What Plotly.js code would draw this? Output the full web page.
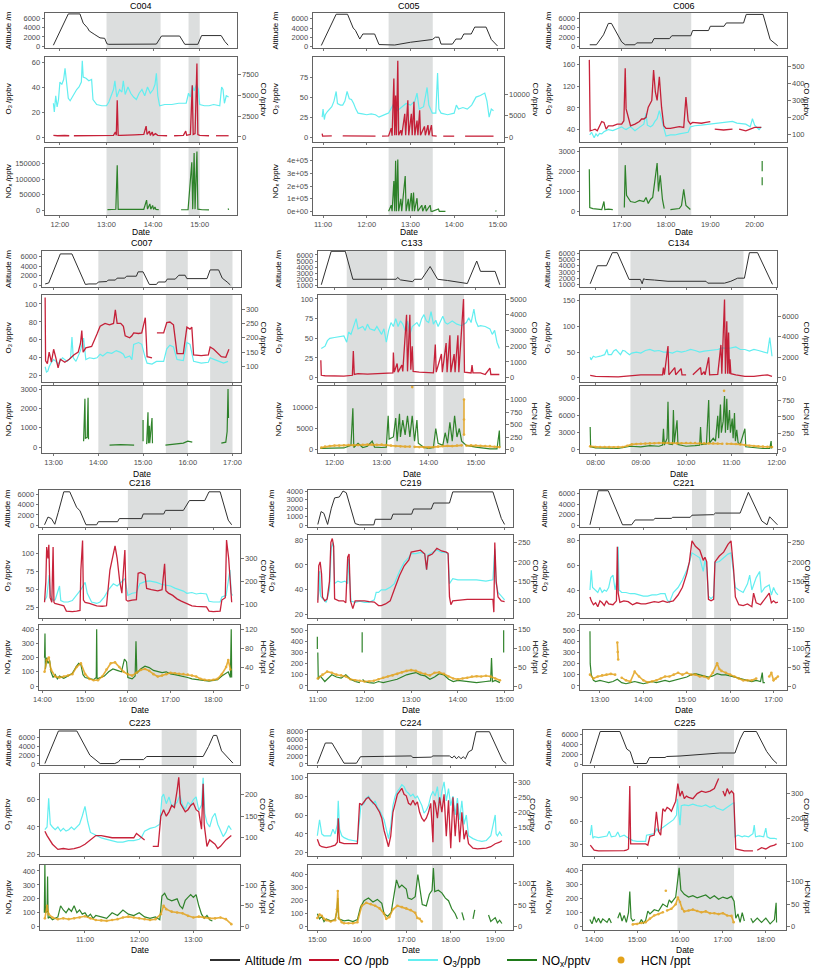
<!DOCTYPE html>
<html><head><meta charset="utf-8">
<script src="https://cdn.plot.ly/plotly-3.0.1.min.js"></script>
<style>body{margin:0;background:#fff}#chart{width:813px;height:977px}</style>
</head><body><div id="chart"></div>
<script>
// ===================== DATA (time in decimal hours, value) =====================
// ---- C004 ----
const C004_ALT=[[11.86,200],[12.18,7000],[12.43,7000],[12.5,5000],[12.59,4000],[12.63,3300],[12.75,2500],[12.86,1800],[12.96,1700],[13.01,500],[13.05,400],[13.5,420],[14.07,450],[14.18,2200],[14.57,2200],[14.68,400],[14.96,400],[15.04,2300],[15.46,2300],[15.54,1000],[15.61,200]];
const C004_O3=[[11.86,27],[11.88,20],[11.91,33],[11.94,24],[11.97,30],[12.0,44],[12.04,42],[12.08,46],[12.11,55],[12.14,43],[12.18,31],[12.22,29],[12.27,32],[12.32,36],[12.36,38],[12.41,40],[12.46,44],[12.48,61],[12.5,48],[12.56,47],[12.62,45],[12.68,46],[12.71,30],[12.79,26],[12.9,25],[13.0,25],[13.05,28],[13.1,33],[13.15,38],[13.18,45],[13.22,32],[13.28,38],[13.33,36],[13.36,45],[13.4,34],[13.46,40],[13.52,35],[13.58,32],[13.64,30],[13.7,35],[13.76,38],[13.82,33],[13.88,40],[13.94,35],[14.0,38],[14.04,42],[14.07,51],[14.1,33],[14.14,25],[14.25,26],[14.4,26],[14.55,27],[14.71,27],[14.76,35],[14.8,32],[14.84,41],[14.88,37],[14.93,42],[14.97,38],[15.0,26],[15.1,25],[15.2,25],[15.3,26],[15.43,25],[15.47,40],[15.5,38],[15.53,27],[15.57,33],[15.62,32]];
const C004_CO=[[11.86,200],[11.95,150],[12.1,180],[12.2,150],[12.25,null],[12.3,150],[12.5,150],[12.7,180],[12.9,200],[13.15,200],[13.19,600],[13.21,200],[13.23,4400],[13.25,200],[13.3,200],[13.45,180],[13.6,250],[13.8,300],[13.85,1300],[13.87,300],[13.92,700],[13.94,200],[13.98,600],[14.0,200],[14.05,400],[14.1,200],[14.3,150],[14.4,null],[14.45,150],[14.65,200],[14.7,700],[14.72,200],[14.8,300],[14.84,6200],[14.86,300],[14.9,400],[14.94,8800],[14.96,300],[15.0,200],[15.2,150],[15.3,null],[15.35,150],[15.62,150]];
const C004_NOX=[[11.86,5000],[11.865,null],[13.02,1500],[13.1,2000],[13.2,2500],[13.23,145000],[13.25,2500],[13.4,2000],[13.6,1500],[13.8,2500],[13.86,32000],[13.88,3000],[13.93,20000],[13.95,3000],[13.99,15000],[14.01,2000],[14.04,10000],[14.06,2000],[14.12,1500],[14.15,null],[14.6,1000],[14.75,1500],[14.83,155000],[14.85,3000],[14.88,185000],[14.9,3000],[14.94,190000],[14.96,3000],[15.05,1000],[15.2,800],[15.3,null],[15.61,5000],[15.62,500]];
const C004_SHADE=[[13.0,14.16],[14.76,15.0]];
// ---- C005 ----
const C005_ALT=[[10.96,200],[11.3,7000],[11.56,7000],[11.69,4000],[11.74,3500],[11.84,1600],[11.91,2700],[12.18,2700],[12.28,400],[12.52,400],[12.64,300],[13.0,900],[13.5,1500],[13.57,2000],[13.65,2000],[13.7,500],[13.96,500],[14.04,1600],[14.16,1600],[14.22,2700],[14.39,2700],[14.47,4200],[14.73,4200],[14.85,1500],[14.99,100]];
const C005_O3=[[10.98,25],[11.0,35],[11.03,22],[11.05,28],[11.1,32],[11.15,35],[11.2,38],[11.25,45],[11.3,57],[11.33,42],[11.4,40],[11.45,40],[11.5,45],[11.55,57],[11.6,48],[11.65,47],[11.7,42],[11.75,35],[11.8,30],[11.9,29],[12.0,28],[12.1,29],[12.2,28],[12.28,25],[12.35,27],[12.45,29],[12.5,30],[12.55,35],[12.6,40],[12.7,33],[12.8,38],[12.9,42],[13.0,40],[13.1,45],[13.15,55],[13.2,35],[13.3,38],[13.38,62],[13.42,40],[13.5,30],[13.58,30],[13.62,80],[13.65,35],[13.7,30],[13.85,28],[14.0,30],[14.05,40],[14.1,35],[14.2,37],[14.3,35],[14.4,40],[14.5,50],[14.6,52],[14.7,55],[14.75,45],[14.8,25],[14.85,35],[14.9,33]];
const C005_CO=[[10.98,800],[10.99,200],[11.2,250],[11.4,null],[11.45,250],[11.8,200],[12.2,200],[12.3,null],[12.35,200],[12.5,250],[12.56,2100],[12.58,300],[12.62,13800],[12.64,400],[12.66,9800],[12.68,400],[12.71,18000],[12.73,400],[12.78,1600],[12.8,400],[12.87,5500],[12.89,400],[12.94,8700],[12.96,400],[13.02,5500],[13.04,400],[13.08,8300],[13.1,400],[13.15,3900],[13.17,400],[13.21,6300],[13.23,400],[13.32,2500],[13.34,400],[13.4,2800],[13.42,400],[13.48,2800],[13.5,300],[13.6,200],[13.7,null],[13.75,200],[14.0,200],[14.2,null],[14.25,200],[14.6,200],[14.9,200]];
const C005_NOX=[[12.5,3000],[12.56,50000],[12.58,3000],[12.62,240000],[12.64,3000],[12.66,400000],[12.68,3000],[12.71,410000],[12.73,3000],[12.78,100000],[12.8,3000],[12.88,280000],[12.9,3000],[12.95,100000],[12.97,3000],[13.02,145000],[13.04,3000],[13.07,150000],[13.09,3000],[13.15,105000],[13.17,3000],[13.26,50000],[13.28,3000],[13.34,50000],[13.36,3000],[13.45,50000],[13.47,3000],[13.5,2000],[13.64,20000],[13.66,2000],[13.8,1500],[13.81,null],[14.95,8000],[14.96,1000]];
const C005_SHADE=[[12.5,13.51]];
// ---- C006 ----
const C006_ALT=[[16.28,400],[16.43,400],[16.59,2500],[16.7,4900],[16.77,4900],[16.85,3500],[17.0,1000],[17.08,400],[17.3,400],[17.34,800],[17.68,800],[17.73,1700],[18.08,1700],[18.13,2300],[18.56,2300],[18.6,3400],[18.96,3400],[19.0,4300],[19.31,4300],[19.36,5000],[19.75,5000],[19.81,6800],[20.19,6800],[20.35,1500],[20.52,200]];
const C006_O3=[[16.28,30],[16.32,35],[16.38,25],[16.42,32],[16.46,28],[16.5,33],[16.55,32],[16.6,36],[16.65,38],[16.7,40],[16.8,38],[16.9,42],[17.0,45],[17.05,42],[17.1,40],[17.2,45],[17.3,38],[17.4,44],[17.5,50],[17.55,70],[17.58,48],[17.65,45],[17.7,48],[17.75,55],[17.8,60],[17.85,75],[17.9,60],[17.95,40],[18.0,28],[18.1,30],[18.2,30],[18.3,32],[18.4,33],[18.5,35],[18.55,45],[18.65,47],[18.8,48],[19.0,50],[19.3,52],[19.5,55],[19.6,52],[19.8,50],[19.9,45],[19.95,60],[20.0,48],[20.1,40],[20.15,45]];
const C006_CO=[[16.27,540],[16.29,120],[16.35,125],[16.4,130],[16.45,120],[16.5,150],[16.55,175],[16.6,170],[16.65,130],[16.7,150],[16.8,150],[16.9,160],[17.0,160],[17.05,180],[17.08,490],[17.1,250],[17.15,200],[17.2,150],[17.3,160],[17.4,175],[17.45,190],[17.5,190],[17.55,200],[17.6,260],[17.68,300],[17.72,480],[17.76,350],[17.8,300],[17.85,440],[17.9,260],[17.95,150],[18.0,135],[18.1,135],[18.2,140],[18.3,145],[18.4,140],[18.45,320],[18.5,180],[18.55,160],[18.6,170],[18.8,165],[18.9,170],[19.0,175],[19.05,null],[19.1,130],[19.3,125],[19.5,130],[19.6,null],[19.65,130],[19.8,120],[19.9,130],[20.0,140],[20.15,140]];
const C006_NOX=[[16.27,2100],[16.28,200],[16.35,150],[16.45,120],[16.55,100],[16.6,500],[16.62,100],[16.7,120],[16.8,100],[16.85,null],[17.06,200],[17.08,2300],[17.11,800],[17.2,500],[17.3,450],[17.4,550],[17.5,500],[17.55,700],[17.6,400],[17.65,600],[17.7,700],[17.75,1700],[17.8,2400],[17.83,1000],[17.87,1800],[17.92,600],[17.96,150],[18.0,null],[18.1,100],[18.2,120],[18.3,150],[18.35,300],[18.4,1100],[18.45,300],[18.5,200],[18.55,100],[18.6,null],[20.17,1300],[20.17,1700],[20.171,null],[20.17,2000],[20.17,2500]];
const C006_SHADE=[[16.92,18.57]];
// ---- C007 ----
const C007_ALT=[[12.81,300],[12.89,500],[13.15,6500],[13.41,6500],[13.71,200],[13.79,300],[13.96,300],[14.0,700],[14.19,800],[14.22,1100],[14.38,1100],[14.42,1500],[14.59,1500],[14.63,1900],[14.85,1900],[14.89,2800],[15.0,2800],[15.14,200],[15.3,200],[15.34,700],[15.5,700],[15.54,1300],[15.72,1300],[15.8,2100],[15.94,2100],[15.98,1400],[16.43,1400],[16.5,3200],[16.69,3200],[16.77,1500],[16.88,700],[16.95,100]];
const C007_O3=[[12.81,30],[12.84,24],[12.87,25],[12.9,30],[12.95,35],[13.0,38],[13.05,36],[13.1,33],[13.15,37],[13.2,40],[13.3,36],[13.38,40],[13.41,63],[13.44,40],[13.5,36],[13.55,42],[13.6,48],[13.67,62],[13.72,38],[13.8,40],[13.9,39],[13.97,40],[14.04,44],[14.1,42],[14.2,46],[14.3,45],[14.4,48],[14.5,46],[14.56,44],[14.6,40],[14.7,42],[14.75,38],[14.79,55],[14.9,57],[14.97,55],[15.05,40],[15.09,34],[15.2,33],[15.3,36],[15.46,36],[15.53,50],[15.6,54],[15.68,52],[15.76,38],[15.9,37],[15.98,57],[16.05,55],[16.13,36],[16.3,34],[16.46,35],[16.5,40],[16.6,38],[16.7,36],[16.8,34],[16.9,36]];
const C007_CO=[[12.81,340],[12.82,120],[12.86,110],[12.9,150],[12.95,115],[13.0,160],[13.05,130],[13.1,95],[13.15,125],[13.25,115],[13.35,125],[13.45,140],[13.55,150],[13.6,180],[13.63,225],[13.66,150],[13.72,165],[13.78,168],[13.85,170],[13.97,213],[14.04,240],[14.15,250],[14.25,245],[14.34,250],[14.38,297],[14.42,250],[14.5,250],[14.56,240],[14.6,207],[14.7,200],[14.75,207],[14.79,217],[14.9,215],[14.97,217],[15.05,270],[15.09,134],[15.2,130],[15.23,null],[15.31,217],[15.46,217],[15.53,253],[15.6,255],[15.68,245],[15.76,145],[15.9,145],[15.98,237],[16.05,230],[16.09,237],[16.13,140],[16.3,138],[16.46,140],[16.5,168],[16.58,160],[16.65,150],[16.75,134],[16.85,132],[16.92,160]];
const C007_NOX=[[13.67,300],[13.7,2500],[13.71,450],[13.75,500],[13.77,2550],[13.78,400],[13.8,null],[14.25,100],[14.5,120],[14.8,100],[14.81,null],[15.0,1400],[15.0,300],[15.01,null],[15.08,150],[15.11,1800],[15.12,200],[15.14,1100],[15.15,200],[15.2,1500],[15.21,200],[15.23,null],[15.5,100],[15.7,150],[15.9,200],[16.0,300],[16.1,250],[16.12,null],[16.75,200],[16.85,250],[16.88,800],[16.9,3000],[16.91,1500],[16.92,null]];
const C007_SHADE=[[14.0,15.0],[15.51,16.0],[16.5,17.0]];
// ---- C133 ----
const C133_ALT=[[11.72,1100],[11.93,6600],[12.23,6600],[12.39,2000],[13.31,2000],[13.34,2300],[13.4,1900],[13.66,1600],[13.7,2000],[13.85,2000],[14.03,4100],[14.19,2000],[14.4,1800],[14.68,1500],[14.82,1300],[15.02,5000],[15.1,3300],[15.41,3300],[15.51,1100]];
const C133_O3=[[11.72,37],[11.8,40],[11.85,47],[11.9,50],[12.0,51],[12.1,52],[12.2,53],[12.26,45],[12.3,58],[12.35,55],[12.4,65],[12.46,75],[12.5,62],[12.6,65],[12.65,60],[12.7,68],[12.75,62],[12.85,60],[12.9,65],[13.0,55],[13.05,62],[13.1,45],[13.15,60],[13.2,70],[13.25,65],[13.3,75],[13.35,65],[13.4,72],[13.45,68],[13.5,60],[13.55,72],[13.6,55],[13.65,65],[13.7,68],[13.75,70],[13.8,65],[13.85,75],[13.9,80],[13.95,72],[14.0,70],[14.05,84],[14.1,68],[14.15,73],[14.2,65],[14.25,72],[14.3,78],[14.35,70],[14.4,68],[14.5,72],[14.6,68],[14.7,66],[14.8,70],[14.85,76],[14.9,70],[14.96,87],[15.0,72],[15.05,65],[15.1,66],[15.2,65],[15.3,62],[15.35,55],[15.4,60],[15.45,45],[15.5,37]];
const C133_CO=[[11.71,1100],[11.72,150],[11.8,120],[12.0,100],[12.2,100],[12.38,150],[12.4,1700],[12.42,200],[12.5,250],[12.7,230],[12.9,250],[13.1,300],[13.24,300],[13.25,1600],[13.27,350],[13.33,900],[13.35,350],[13.43,800],[13.45,400],[13.53,4000],[13.55,400],[13.6,4000],[13.62,500],[13.65,2000],[13.67,400],[13.8,350],[14.0,300],[14.1,300],[14.14,2100],[14.16,350],[14.27,1500],[14.29,350],[14.37,2200],[14.39,350],[14.45,2700],[14.47,350],[14.54,1500],[14.56,350],[14.62,2700],[14.64,350],[14.74,5000],[14.76,350],[14.9,300],[14.92,800],[14.94,300],[15.1,300],[15.2,200],[15.3,600],[15.32,200],[15.5,200]];
const C133_NOX=[[11.7,300],[11.8,300],[12.0,300],[12.2,400],[12.35,1000],[12.39,9800],[12.41,500],[12.5,1500],[12.6,500],[12.7,800],[12.8,2000],[12.85,600],[13.0,500],[13.1,600],[13.14,8000],[13.16,2500],[13.25,3000],[13.3,7500],[13.33,2000],[13.38,8500],[13.4,3000],[13.45,7000],[13.5,3500],[13.55,8000],[13.6,3000],[13.65,8000],[13.7,2000],[13.75,7000],[13.78,1500],[13.9,500],[14.0,300],[14.1,500],[14.15,5000],[14.2,1500],[14.3,1000],[14.35,4000],[14.4,1500],[14.45,6500],[14.5,2000],[14.55,8000],[14.6,3000],[14.65,5000],[14.7,2000],[14.8,1000],[15.0,600],[15.2,300],[15.3,200],[15.45,200],[15.5,4500],[15.51,500]];
const C133_HCN=[[11.72,40],[11.8,60],[11.9,70],[12.0,80],[12.1,80],[12.2,85],[12.3,90],[12.4,85],[12.5,90],[12.6,95],[12.7,100],[12.8,100],[12.9,95],[13.0,100],[13.1,90],[13.2,80],[13.3,70],[13.4,65],[13.5,60],[13.6,60],[13.64,null],[13.65,1250],[13.66,null],[13.7,55],[13.8,50],[13.9,45],[14.0,40],[14.1,50],[14.2,60],[14.3,70],[14.4,75],[14.5,70],[14.6,80],[14.7,85],[14.74,null],[14.75,1000],[14.75,600],[14.75,300],[14.76,null],[14.8,80],[14.9,85],[15.0,80],[15.1,75],[15.2,70],[15.3,70],[15.4,55],[15.5,50]];
const C133_SHADE=[[12.26,13.12],[13.26,13.7],[13.9,14.15],[14.31,14.75]];
// ---- C134 ----
const C134_ALT=[[7.88,1100],[8.04,4000],[8.24,4000],[8.37,6100],[8.48,6100],[8.74,1800],[8.99,1800],[9.03,1100],[9.06,1900],[9.1,1800],[9.3,1700],[9.6,1500],[10.44,1500],[10.48,1200],[10.85,1200],[10.99,1500],[11.14,2000],[11.29,2000],[11.4,6100],[11.58,6100],[11.91,1000]];
const C134_O3=[[7.88,40],[7.9,35],[7.95,42],[8.0,40],[8.1,42],[8.2,45],[8.25,55],[8.28,45],[8.35,45],[8.4,52],[8.45,55],[8.5,50],[8.55,45],[8.6,53],[8.65,52],[8.7,48],[8.75,45],[8.8,48],[8.9,50],[9.0,48],[9.1,53],[9.2,55],[9.3,52],[9.4,53],[9.5,50],[9.6,50],[9.7,48],[9.8,52],[9.9,50],[10.0,52],[10.1,55],[10.2,53],[10.3,50],[10.4,52],[10.5,53],[10.6,55],[10.7,55],[10.8,58],[10.9,57],[11.0,58],[11.1,60],[11.2,55],[11.3,55],[11.4,52],[11.5,55],[11.6,53],[11.7,50],[11.8,48],[11.85,78],[11.88,50],[11.9,42]];
const C134_CO=[[7.88,250],[7.95,200],[8.0,150],[8.5,100],[8.75,200],[8.8,250],[9.0,300],[9.48,300],[9.5,1000],[9.52,300],[9.6,3100],[9.62,300],[9.75,1000],[9.77,300],[9.89,900],[9.91,300],[10.0,300],[10.1,null],[10.15,300],[10.32,1000],[10.34,300],[10.4,600],[10.42,300],[10.5,2000],[10.52,300],[10.7,350],[10.77,3200],[10.79,400],[10.85,7600],[10.87,400],[10.9,5500],[10.92,400],[10.94,4400],[10.96,400],[10.97,1800],[10.99,400],[11.1,300],[11.3,150],[11.5,150],[11.8,300],[11.9,150]];
const C134_NOX=[[7.88,4000],[7.89,500],[8.0,300],[8.3,250],[8.5,200],[8.77,600],[9.0,500],[9.2,700],[9.4,600],[9.48,800],[9.5,3700],[9.52,800],[9.58,2000],[9.6,8500],[9.62,1000],[9.7,900],[9.72,7000],[9.74,1200],[9.8,5200],[9.82,900],[10.0,600],[10.2,700],[10.3,800],[10.32,4000],[10.34,900],[10.45,1000],[10.5,8800],[10.52,1200],[10.6,2000],[10.65,1500],[10.7,6000],[10.72,2000],[10.76,8000],[10.78,3000],[10.82,5000],[10.85,9500],[10.87,3000],[10.9,9000],[10.92,3500],[10.96,7000],[10.98,3000],[11.02,5500],[11.04,2000],[11.07,6500],[11.09,1500],[11.12,3500],[11.15,1200],[11.2,1000],[11.3,3700],[11.32,500],[11.5,300],[11.7,200],[11.85,200],[11.88,1500],[11.89,200]];
const C134_HCN=[[7.88,50],[8.0,40],[8.1,40],[8.2,40],[8.3,38],[8.4,35],[8.5,38],[8.6,40],[8.7,60],[8.8,80],[8.9,85],[9.0,90],[9.1,92],[9.2,95],[9.3,98],[9.4,100],[9.5,100],[9.6,100],[9.7,98],[9.8,95],[9.9,98],[10.0,100],[10.1,100],[10.2,100],[10.3,98],[10.4,95],[10.5,95],[10.6,95],[10.7,92],[10.8,90],[10.83,null],[10.84,900],[10.85,null],[10.9,90],[11.0,90],[11.1,85],[11.2,80],[11.3,70],[11.4,60],[11.5,55],[11.6,50],[11.7,45],[11.8,42],[11.9,40]];
const C134_SHADE=[[8.77,11.27]];
// ---- C218 ----
const C218_ALT=[[14.05,100],[14.13,1600],[14.21,1300],[14.29,200],[14.37,2500],[14.5,6500],[14.64,6500],[14.8,3500],[14.88,2800],[15.02,100],[15.27,100],[15.31,700],[15.76,700],[15.8,1300],[16.32,1300],[16.36,2200],[16.84,2200],[16.88,2900],[17.3,2900],[17.44,4800],[17.8,4800],[17.9,6500],[18.16,6500],[18.35,1000],[18.43,100]];
const C218_O3=[[14.05,35],[14.1,40],[14.16,70],[14.19,42],[14.25,35],[14.3,36],[14.4,55],[14.43,35],[14.5,33],[14.6,33],[14.7,35],[14.8,42],[14.9,50],[15.0,60],[15.05,45],[15.15,33],[15.27,31],[15.35,33],[15.45,40],[15.55,50],[15.66,58],[15.75,55],[15.85,60],[15.93,65],[16.0,42],[16.1,45],[16.2,46],[16.28,58],[16.4,61],[16.5,62],[16.67,60],[16.8,57],[16.9,56],[17.0,55],[17.1,52],[17.2,50],[17.3,48],[17.38,45],[17.5,46],[17.6,44],[17.7,45],[17.84,44],[17.9,34],[18.0,33],[18.16,33],[18.2,40],[18.3,42],[18.39,77],[18.42,45],[18.45,42]];
const C218_CO=[[14.05,110],[14.08,200],[14.1,350],[14.13,300],[14.15,360],[14.18,130],[14.22,110],[14.25,350],[14.27,110],[14.29,105],[14.4,100],[14.5,95],[14.56,72],[14.7,70],[14.8,72],[14.88,75],[14.9,250],[14.94,378],[14.96,120],[15.0,110],[15.1,105],[15.27,95],[15.4,93],[15.5,95],[15.58,250],[15.65,320],[15.7,355],[15.75,300],[15.81,200],[15.86,150],[15.93,337],[15.96,120],[16.0,115],[16.1,120],[16.2,122],[16.24,236],[16.3,240],[16.4,230],[16.44,170],[16.55,165],[16.7,160],[16.8,165],[16.86,277],[16.89,160],[16.95,150],[17.05,140],[17.15,125],[17.25,115],[17.38,105],[17.5,95],[17.6,92],[17.7,90],[17.84,90],[17.9,72],[18.0,70],[18.16,72],[18.2,120],[18.28,130],[18.31,380],[18.36,300],[18.39,200],[18.43,110]];
const C218_NOX=[[14.05,200],[14.06,370],[14.07,120],[14.1,200],[14.13,160],[14.17,180],[14.2,100],[14.25,60],[14.3,80],[14.35,50],[14.4,70],[14.5,55],[14.6,70],[14.7,90],[14.8,140],[14.85,160],[14.9,150],[14.95,80],[15.0,60],[15.1,50],[15.2,45],[15.26,60],[15.27,400],[15.28,50],[15.35,60],[15.45,70],[15.55,100],[15.65,120],[15.75,110],[15.85,100],[15.92,190],[15.97,170],[16.0,60],[16.1,50],[16.17,70],[16.19,315],[16.21,90],[16.3,120],[16.4,140],[16.5,130],[16.6,110],[16.7,100],[16.8,95],[16.9,100],[17.0,85],[17.1,80],[17.2,75],[17.3,65],[17.4,60],[17.5,50],[17.6,45],[17.7,40],[17.8,40],[17.9,35],[18.0,40],[18.1,45],[18.2,70],[18.3,90],[18.35,100],[18.4,60],[18.42,400],[18.43,60]];
const C218_HCN=[[14.05,30],[14.1,55],[14.15,60],[14.2,35],[14.3,20],[14.4,18],[14.5,20],[14.6,22],[14.7,25],[14.8,40],[14.9,48],[15.0,25],[15.1,15],[15.2,12],[15.3,12],[15.4,20],[15.5,35],[15.6,48],[15.7,50],[15.8,40],[15.9,30],[16.0,25],[16.1,22],[16.2,28],[16.3,34],[16.4,36],[16.5,32],[16.6,25],[16.7,20],[16.8,22],[16.9,25],[17.0,28],[17.1,27],[17.2,26],[17.3,25],[17.4,24],[17.5,22],[17.6,20],[17.7,15],[17.8,13],[17.9,12],[18.0,13],[18.1,15],[18.2,25],[18.3,40],[18.35,55],[18.4,35]];
const C218_SHADE=[[16.0,17.4]];
// ---- C219 ----
const C219_ALT=[[11.0,100],[11.07,1600],[11.13,1400],[11.21,100],[11.29,2000],[11.36,3200],[11.46,3300],[11.54,4000],[11.61,3800],[11.8,200],[11.89,50],[12.2,50],[12.23,700],[12.57,700],[12.61,1300],[13.01,1300],[13.05,1900],[13.43,1900],[13.48,2600],[13.82,2600],[13.89,3900],[14.75,3900],[14.93,800],[15.0,100]];
const C219_O3=[[11.0,32],[11.03,40],[11.04,55],[11.06,35],[11.1,33],[11.18,30],[11.25,40],[11.29,74],[11.33,78],[11.36,45],[11.43,47],[11.5,46],[11.58,47],[11.64,45],[11.66,65],[11.69,35],[11.71,31],[11.8,30],[11.9,31],[12.0,30],[12.1,30],[12.21,32],[12.25,38],[12.3,38],[12.36,40],[12.45,40],[12.55,42],[12.64,45],[12.75,55],[12.85,62],[12.95,66],[13.0,69],[13.1,69],[13.2,70],[13.29,69],[13.33,56],[13.36,68],[13.45,70],[13.55,72],[13.65,70],[13.75,70],[13.79,68],[13.82,45],[13.89,49],[14.0,48],[14.2,48],[14.4,48],[14.6,47],[14.75,48],[14.79,73],[14.82,45],[14.86,38],[14.93,35],[15.0,32]];
const C219_CO=[[11.0,95],[11.02,190],[11.05,200],[11.08,170],[11.1,110],[11.15,100],[11.2,105],[11.25,150],[11.28,250],[11.31,260],[11.34,240],[11.36,105],[11.45,100],[11.55,100],[11.6,95],[11.64,212],[11.67,220],[11.7,100],[11.75,80],[11.8,100],[11.9,100],[12.0,100],[12.1,98],[12.21,97],[12.3,88],[12.36,88],[12.45,92],[12.55,100],[12.64,130],[12.75,165],[12.85,190],[12.95,205],[13.0,225],[13.1,228],[13.2,230],[13.29,220],[13.33,180],[13.36,215],[13.45,220],[13.55,235],[13.65,228],[13.75,225],[13.79,222],[13.82,110],[13.85,90],[13.89,100],[14.0,102],[14.2,104],[14.4,104],[14.6,104],[14.75,104],[14.77,71],[14.79,250],[14.82,150],[14.86,110],[14.93,100],[15.0,98]];
const C219_NOX=[[10.99,440],[10.99,330],[10.995,null],[11.0,300],[11.01,60],[11.05,90],[11.1,60],[11.15,40],[11.2,60],[11.3,100],[11.4,80],[11.5,70],[11.6,100],[11.7,60],[11.8,40],[11.9,30],[11.94,null],[11.95,300],[11.95,480],[11.955,null],[11.96,60],[12.0,40],[12.1,30],[12.2,25],[12.3,40],[12.4,30],[12.5,40],[12.6,50],[12.7,60],[12.8,80],[12.9,100],[13.0,110],[13.1,120],[13.2,100],[13.3,90],[13.4,60],[13.5,80],[13.6,110],[13.7,100],[13.8,60],[13.9,40],[14.0,50],[14.2,40],[14.4,30],[14.6,40],[14.7,45],[14.72,250],[14.74,40],[14.8,50],[14.9,30],[14.97,null],[14.98,300],[14.98,500]];
const C219_HCN=[[11.0,20],[11.1,30],[11.2,38],[11.3,35],[11.4,30],[11.5,28],[11.6,25],[11.7,18],[11.8,15],[11.9,14],[12.0,12],[12.1,12],[12.2,14],[12.3,18],[12.4,22],[12.5,25],[12.6,28],[12.7,32],[12.8,36],[12.9,40],[13.0,42],[13.1,40],[13.2,35],[13.3,32],[13.4,28],[13.5,35],[13.6,36],[13.7,32],[13.8,25],[13.9,20],[14.0,18],[14.1,20],[14.2,22],[14.3,25],[14.4,26],[14.5,25],[14.6,27],[14.7,25],[14.8,20],[14.9,15]];
const C219_SHADE=[[12.36,13.75]];
// ---- C221 ----
const C221_ALT=[[12.77,100],[12.96,6500],[13.19,6500],[13.52,100],[13.73,100],[13.81,1000],[14.23,1000],[14.27,1300],[14.65,1300],[14.67,1500],[15.08,1500],[15.12,1900],[15.62,2000],[15.66,2300],[16.23,2300],[16.42,6200],[16.73,800],[16.85,100],[16.91,1600],[17.0,900],[17.09,100]];
const C221_O3=[[12.77,40],[12.8,56],[12.83,42],[12.88,40],[12.95,38],[13.0,42],[13.05,38],[13.1,40],[13.15,39],[13.2,42],[13.25,50],[13.3,52],[13.35,40],[13.4,50],[13.42,75],[13.44,40],[13.5,38],[13.6,38],[13.7,37],[13.8,37],[13.9,36],[14.0,35],[14.1,35],[14.2,36],[14.3,36],[14.4,37],[14.5,37],[14.55,32],[14.6,30],[14.69,38],[14.8,42],[14.9,48],[15.0,56],[15.06,62],[15.12,70],[15.2,68],[15.3,66],[15.38,55],[15.42,64],[15.46,58],[15.5,35],[15.56,33],[15.62,35],[15.65,62],[15.75,63],[15.85,66],[15.95,69],[16.02,70],[16.08,55],[16.12,42],[16.2,40],[16.3,38],[16.4,45],[16.45,52],[16.5,40],[16.6,50],[16.68,55],[16.72,38],[16.8,42],[16.9,44],[16.95,36],[17.0,42],[17.05,38],[17.1,36]];
const C221_CO=[[12.77,110],[12.8,100],[12.85,90],[12.9,95],[12.95,85],[13.0,100],[13.05,95],[13.1,88],[13.15,100],[13.2,92],[13.3,90],[13.38,100],[13.4,239],[13.42,120],[13.46,96],[13.55,100],[13.65,98],[13.75,90],[13.85,95],[13.95,92],[14.05,92],[14.15,95],[14.25,98],[14.35,96],[14.45,100],[14.55,96],[14.69,100],[14.8,115],[14.9,135],[15.0,170],[15.06,200],[15.12,254],[15.2,240],[15.3,230],[15.38,204],[15.42,212],[15.46,200],[15.5,104],[15.56,100],[15.62,104],[15.65,200],[15.75,215],[15.85,225],[15.95,245],[16.02,254],[16.08,180],[16.12,110],[16.2,90],[16.3,88],[16.4,92],[16.5,85],[16.54,120],[16.6,95],[16.7,90],[16.8,105],[16.9,120],[16.95,95],[17.0,100],[17.05,95],[17.1,97]];
const C221_NOX=[[12.77,490],[12.775,200],[12.8,100],[12.85,50],[12.9,40],[13.0,50],[13.1,40],[13.2,30],[13.3,40],[13.4,60],[13.5,30],[13.6,20],[13.7,30],[13.8,40],[13.9,30],[14.0,20],[14.1,30],[14.2,40],[14.3,30],[14.4,40],[14.5,50],[14.6,40],[14.7,50],[14.8,60],[14.9,70],[15.0,80],[15.1,100],[15.2,110],[15.3,100],[15.4,90],[15.5,80],[15.6,90],[15.7,110],[15.8,100],[15.9,100],[16.0,90],[16.1,80],[16.2,70],[16.3,60],[16.4,50],[16.5,40],[16.6,50],[16.7,40],[16.74,120],[16.76,30],[16.8,30]];
const C221_HCN=[[12.77,30],[12.85,20],[12.95,25],[13.05,28],[13.15,30],[13.25,32],[13.35,30],[13.39,null],[13.4,115],[13.41,90],[13.42,70],[13.43,null],[13.5,22],[13.6,15],[13.7,12],[13.8,38],[13.9,25],[14.0,15],[14.1,10],[14.2,12],[14.3,15],[14.4,20],[14.5,25],[14.6,25],[14.7,30],[14.8,35],[14.9,30],[15.0,35],[15.1,30],[15.2,30],[15.3,25],[15.4,25],[15.5,20],[15.6,35],[15.7,60],[15.75,45],[15.8,40],[15.9,35],[16.0,30],[16.1,25],[16.2,20],[16.3,15],[16.4,15],[16.5,15],[16.6,20],[16.65,null],[16.9,25],[16.95,35],[17.0,15],[17.05,20],[17.1,25]];
const C221_SHADE=[[15.12,15.45],[15.63,16.02]];
// ---- C223 ----
const C223_ALT=[[10.26,100],[10.45,6000],[10.51,7500],[10.85,7500],[11.09,2000],[11.28,100],[11.55,100],[11.62,500],[11.65,1000],[12.08,1000],[12.14,1700],[13.18,1700],[13.28,4000],[13.37,6500],[13.43,6500],[13.52,3000],[13.73,200]];
const C223_O3=[[10.26,38],[10.3,40],[10.33,61],[10.36,42],[10.4,40],[10.45,38],[10.5,40],[10.55,37],[10.6,39],[10.65,37],[10.7,38],[10.75,40],[10.8,38],[10.85,40],[10.9,42],[10.95,48],[11.0,55],[11.05,44],[11.1,36],[11.15,35],[11.2,34],[11.3,32],[11.4,31],[11.5,30],[11.6,29],[11.7,29],[11.8,30],[11.9,30],[12.0,31],[12.05,33],[12.1,37],[12.2,39],[12.3,40],[12.38,42],[12.42,62],[12.45,64],[12.5,57],[12.55,62],[12.6,55],[12.7,58],[12.75,63],[12.8,56],[12.85,53],[12.9,58],[12.95,56],[13.0,60],[13.05,62],[13.1,52],[13.15,56],[13.18,76],[13.21,50],[13.25,43],[13.3,40],[13.35,47],[13.4,50],[13.45,42],[13.5,38],[13.55,33],[13.6,36],[13.65,41],[13.7,38]];
const C223_CO=[[10.26,115],[10.3,105],[10.4,85],[10.5,73],[10.6,75],[10.7,73],[10.8,75],[10.9,78],[11.0,85],[11.1,95],[11.2,105],[11.3,105],[11.4,103],[11.5,100],[11.6,100],[11.7,100],[11.8,100],[11.9,100],[11.95,110],[12.0,105],[12.05,100],[12.1,95],[12.15,null],[12.25,80],[12.35,80],[12.4,150],[12.45,165],[12.5,150],[12.55,160],[12.6,175],[12.65,170],[12.7,210],[12.73,240],[12.76,180],[12.8,170],[12.85,160],[12.9,165],[12.95,175],[13.0,180],[13.05,165],[13.1,160],[13.15,120],[13.18,225],[13.2,130],[13.25,80],[13.3,95],[13.4,85],[13.45,75],[13.5,80],[13.6,95],[13.7,105]];
const C223_NOX=[[10.25,100],[10.26,450],[10.27,100],[10.3,110],[10.31,360],[10.32,60],[10.35,70],[10.4,50],[10.45,60],[10.5,70],[10.55,150],[10.6,120],[10.65,100],[10.7,130],[10.75,110],[10.8,150],[10.85,100],[10.9,120],[10.95,90],[11.0,100],[11.05,70],[11.1,90],[11.15,60],[11.2,80],[11.3,70],[11.4,60],[11.5,100],[11.6,80],[11.7,120],[11.8,90],[11.9,80],[12.0,100],[12.1,70],[12.2,60],[12.3,70],[12.38,50],[12.42,220],[12.47,240],[12.52,200],[12.6,185],[12.7,200],[12.75,150],[12.8,130],[12.85,190],[12.9,210],[12.95,230],[13.0,210],[13.05,230],[13.1,150],[13.15,90],[13.2,60],[13.25,80],[13.3,50],[13.35,40]];
const C223_HCN=[[10.26,20],[10.3,50],[10.33,30],[10.4,22],[10.5,18],[10.6,20],[10.7,18],[10.8,20],[10.9,22],[11.0,25],[11.1,20],[11.2,16],[11.3,15],[11.4,14],[11.5,16],[11.6,18],[11.7,22],[11.8,24],[11.9,22],[12.0,20],[12.1,18],[12.2,16],[12.3,18],[12.4,30],[12.45,50],[12.5,42],[12.6,36],[12.7,34],[12.8,32],[12.9,26],[13.0,22],[13.1,24],[13.2,22],[13.3,20],[13.4,20],[13.5,22],[13.6,18],[13.7,6]];
const C223_SHADE=[[12.415,13.06]];
// ---- C224 ----
const C224_ALT=[[15.0,100],[15.18,5200],[15.33,5200],[15.6,200],[15.88,200],[15.97,1800],[16.51,1900],[16.78,2000],[17.11,2000],[17.15,1600],[17.56,1700],[17.6,2000],[17.97,2000],[18.03,1500],[18.08,2000],[18.13,1300],[18.18,1900],[18.23,1300],[18.28,1800],[18.33,1300],[18.4,3000],[18.48,3500],[18.57,8000],[18.87,8000],[19.06,3500],[19.17,800],[19.25,100]];
const C224_O3=[[15.0,38],[15.05,55],[15.1,40],[15.15,38],[15.2,38],[15.3,38],[15.35,45],[15.4,40],[15.45,50],[15.47,75],[15.5,45],[15.55,38],[15.6,36],[15.7,34],[15.8,33],[15.9,32],[15.98,70],[16.05,72],[16.1,78],[16.15,80],[16.2,76],[16.25,72],[16.3,75],[16.35,68],[16.4,65],[16.45,60],[16.5,55],[16.55,45],[16.6,35],[16.65,48],[16.7,70],[16.75,80],[16.8,85],[16.85,88],[16.9,92],[16.95,90],[17.0,85],[17.05,83],[17.1,80],[17.15,82],[17.2,78],[17.25,80],[17.3,75],[17.35,70],[17.4,62],[17.45,65],[17.5,70],[17.55,80],[17.6,85],[17.65,80],[17.7,90],[17.75,70],[17.8,85],[17.85,95],[17.9,75],[17.95,88],[18.0,70],[18.05,80],[18.1,60],[18.15,78],[18.2,55],[18.25,75],[18.3,50],[18.35,60],[18.4,38],[18.5,35],[18.6,33],[18.7,32],[18.8,33],[18.9,38],[19.0,60],[19.02,40],[19.05,38],[19.1,42],[19.15,38]];
const C224_CO=[[15.0,110],[15.05,90],[15.1,85],[15.2,82],[15.3,85],[15.4,90],[15.45,100],[15.47,180],[15.5,100],[15.6,95],[15.7,95],[15.8,95],[15.9,95],[15.95,230],[16.0,225],[16.1,245],[16.15,250],[16.2,240],[16.3,225],[16.4,200],[16.45,180],[16.5,140],[16.55,110],[16.6,85],[16.65,120],[16.7,200],[16.75,230],[16.8,260],[16.85,270],[16.9,280],[16.95,260],[17.0,255],[17.05,230],[17.1,225],[17.15,240],[17.2,225],[17.25,235],[17.3,200],[17.35,180],[17.4,170],[17.45,180],[17.5,200],[17.55,230],[17.6,100],[17.62,240],[17.65,230],[17.7,180],[17.75,250],[17.8,200],[17.85,260],[17.9,120],[17.95,240],[18.0,80],[18.05,250],[18.1,120],[18.15,230],[18.2,100],[18.25,200],[18.3,110],[18.35,140],[18.4,95],[18.5,80],[18.6,78],[18.7,78],[18.8,80],[18.9,85],[19.0,95],[19.1,100],[19.15,105]];
const C224_NOX=[[15.0,100],[15.05,60],[15.1,80],[15.15,40],[15.2,60],[15.3,45],[15.4,55],[15.44,120],[15.46,220],[15.48,60],[15.6,45],[15.7,50],[15.8,40],[15.9,55],[15.97,150],[16.05,200],[16.15,220],[16.25,190],[16.35,210],[16.45,180],[16.5,100],[16.58,80],[16.66,110],[16.74,300],[16.78,360],[16.84,300],[16.9,320],[17.0,290],[17.04,220],[17.12,210],[17.2,230],[17.26,400],[17.3,295],[17.36,170],[17.45,160],[17.52,250],[17.58,280],[17.61,450],[17.64,270],[17.72,280],[17.8,260],[17.88,220],[17.95,200],[18.02,140],[18.1,100],[18.15,60],[18.18,null],[18.25,110],[18.3,50],[18.33,null],[18.5,60],[18.54,130],[18.57,null],[18.85,90],[18.9,40],[19.0,70],[19.05,30],[19.1,50],[19.15,25]];
const C224_HCN=[[15.0,20],[15.05,28],[15.1,25],[15.15,18],[15.2,15],[15.3,12],[15.4,15],[15.44,40],[15.46,82],[15.48,20],[15.55,10],[15.6,8],[15.7,8],[15.8,8],[15.9,10],[16.0,48],[16.1,55],[16.2,52],[16.3,48],[16.4,42],[16.5,30],[16.55,18],[16.62,22],[16.7,40],[16.8,48],[16.9,45],[17.0,42],[17.1,38],[17.2,32],[17.25,20],[17.3,18],[17.35,12]];
const C224_SHADE=[[16.0,16.49],[16.75,17.24],[17.58,17.82]];
// ---- C225 ----
const C225_ALT=[[13.91,100],[14.06,4500],[14.14,6500],[14.6,6500],[14.76,3000],[14.84,2500],[14.93,100],[15.22,100],[15.29,1300],[15.65,1300],[15.69,1500],[16.0,1600],[16.62,1900],[16.93,2200],[17.28,2200],[17.4,5000],[17.49,6500],[17.78,6500],[18.02,2500],[18.17,800],[18.26,100]];
const C225_O3=[[13.91,42],[13.94,55],[13.97,38],[14.0,40],[14.1,39],[14.2,40],[14.3,41],[14.35,47],[14.4,40],[14.5,41],[14.55,46],[14.6,40],[14.7,42],[14.75,40],[14.8,38],[14.9,35],[15.0,34],[15.1,34],[15.2,34],[15.22,42],[15.3,43],[15.4,44],[15.46,50],[15.5,47],[15.6,52],[15.7,56],[15.8,60],[15.85,62],[15.92,68],[15.94,89],[15.97,70],[16.0,55],[16.03,80],[16.1,81],[16.2,80],[16.3,82],[16.4,80],[16.5,79],[16.6,81],[16.7,78],[16.8,80],[16.85,77],[16.9,76],[17.0,74],[17.1,78],[17.2,82],[17.26,84],[17.28,40],[17.35,42],[17.45,40],[17.5,41],[17.6,40],[17.7,44],[17.73,55],[17.76,40],[17.85,41],[17.95,40],[18.0,51],[18.03,40],[18.1,38],[18.2,38],[18.26,37]];
const C225_CO=[[13.91,95],[13.95,85],[14.0,75],[14.1,72],[14.2,72],[14.3,72],[14.4,72],[14.5,70],[14.6,72],[14.7,73],[14.75,75],[14.8,80],[14.83,330],[14.85,100],[14.9,100],[15.0,100],[15.1,98],[15.2,100],[15.25,95],[15.3,130],[15.4,135],[15.45,228],[15.5,150],[15.55,135],[15.6,240],[15.65,230],[15.7,245],[15.75,240],[15.8,230],[15.85,250],[15.9,270],[15.95,340],[16.0,290],[16.05,310],[16.1,280],[16.15,290],[16.2,285],[16.3,280],[16.4,300],[16.5,310],[16.6,305],[16.7,310],[16.8,320],[16.9,360],[16.95,null],[17.0,310],[17.05,290],[17.1,320],[17.15,300],[17.2,310],[17.25,300],[17.3,80],[17.4,75],[17.5,72],[17.6,72],[17.7,72],[17.75,null],[17.8,75],[17.85,80],[17.9,85],[18.0,80],[18.1,90],[18.2,95],[18.25,100]];
const C225_NOX=[[13.9,50],[13.95,20],[14.0,70],[14.05,30],[14.1,60],[14.15,25],[14.2,55],[14.3,30],[14.35,60],[14.4,25],[14.43,null],[14.55,60],[14.6,100],[14.65,40],[14.7,80],[14.75,30],[14.8,100],[14.83,250],[14.86,60],[14.9,40],[14.95,50],[15.0,null],[15.05,20],[15.1,50],[15.15,25],[15.2,45],[15.25,110],[15.3,90],[15.4,120],[15.5,110],[15.6,160],[15.7,140],[15.75,190],[15.8,170],[15.9,210],[15.94,320],[15.98,418],[16.02,260],[16.1,230],[16.2,210],[16.3,220],[16.4,205],[16.5,215],[16.6,225],[16.7,200],[16.8,220],[16.9,195],[17.0,210],[17.1,200],[17.2,215],[17.26,180],[17.3,60],[17.35,90],[17.4,30],[17.45,100],[17.5,40],[17.55,null],[17.65,60],[17.7,30],[17.8,60],[17.9,30],[18.0,60],[18.1,20],[18.2,50],[18.24,170],[18.25,30]];
const C225_HCN=[[14.9,5],[15.0,6],[15.1,8],[15.2,10],[15.3,18],[15.4,25],[15.5,28],[15.6,32],[15.66,null],[15.67,80],[15.68,null],[15.7,36],[15.8,40],[15.9,50],[15.95,65],[16.0,55],[16.05,40],[16.1,34],[16.2,36],[16.3,38],[16.4,35],[16.5,32],[16.6,34],[16.7,30],[16.8,30],[16.9,28],[17.0,30],[17.1,25],[17.2,24],[17.25,10]];
const C225_SHADE=[[15.94,17.26]];

// ---- tick values ----
const ALT_T=[0,2000,4000,6000], ALT_T16=[1000,2000,3000,4000,5000,6000], C219_ALTT=[0,1000,2000,3000,4000], C224_ALTT=[0,2000,4000,6000,8000];
const C004_XT=[12,13,14,15], C005_XT=[11,12,13,14,15], C006_XT=[17,18,19,20], C007_XT=[13,14,15,16,17];
const C133_XT=[12,13,14,15], C134_XT=[8,9,10,11,12], C218_XT=[14,15,16,17,18], C219_XT=[11,12,13,14,15];
const C221_XT=[13,14,15,16,17], C223_XT=[11,12,13], C224_XT=[15,16,17,18,19], C225_XT=[14,15,16,17,18];
const C004_O3T=[0,20,40,60], C005_O3T=[0,25,50,75], C006_O3T=[40,80,120,160], C007_O3T=[20,40,60,80,100];
const C133_O3T=[0,25,50,75,100], C134_O3T=[0,50,100,150], C218_O3T=[25,50,75,100], C219_O3T=[20,40,60,80];
const C221_O3T=[20,40,60,80], C223_O3T=[20,40,60], C224_O3T=[20,40,60,80,100], C225_O3T=[30,60,90];
const C004_COT=[0,2500,5000,7500], C005_COT=[0,5000,10000], C006_COT=[100,200,300,400,500], C007_COT=[100,150,200,250,300];
const C133_COT=[0,1000,2000,3000,4000,5000], C134_COT=[0,2000,4000,6000], C218_COT=[100,200,300], C219_COT=[100,150,200,250];
const C221_COT=[100,150,200,250], C223_COT=[100,150,200], C224_COT=[100,150,200,250,300], C225_COT=[100,200,300];
const C004_NOXT=[0,50000,100000,150000], C005_NOXT=[0,100000,200000,300000,400000], C005_NOXL=['0e+00','1e+05','2e+05','3e+05','4e+05'];
const C006_NOXT=[0,1000,2000,3000], C007_NOXT=[0,1000,2000,3000], C133_NOXT=[0,5000,10000], C134_NOXT=[0,3000,6000,9000];
const NOX_T400=[0,100,200,300,400], NOX_T500=[0,100,200,300,400,500];
const C133_HCNT=[0,250,500,750,1000], C134_HCNT=[0,250,500,750], C218_HCNT=[0,40,80,120], HCN_T150=[0,50,100,150], HCN_T100=[0,50,100];

// ===================== LAYOUT CONFIG =====================
const W=813,H=977, FONT='Liberation Sans, Arial, sans-serif';
const ROWS=[
 {alt:[13,48],o3:[57,142],nox:[148,215],title:6,date:232},
 {alt:[251,287],o3:[295,382],nox:[386,453],title:243,date:474},
 {alt:[490,527],o3:[535,618],nox:[625,690],title:483,date:710},
 {alt:[730,765],o3:[774,856],nox:[865,930],title:723,date:950}];
const PANELS=[
 {id:'C004',row:0,cx:[45,237],lx:8,rx:263,alt:C004_ALT,o3:C004_O3,co:C004_CO,nox:C004_NOX,hcn:null,shade:C004_SHADE,xt:C004_XT,altt:ALT_T,o3t:C004_O3T,cot:C004_COT,noxt:C004_NOXT,noxl:null,hcnt:null,xr:[11.68,15.8],altr:[-400,7200],o3r:[-4,64],cor:[-600,9570],noxr:[-16000,201000],hcnr:null},
 {id:'C005',row:0,cx:[313,504],lx:275,rx:535,alt:C005_ALT,o3:C005_O3,co:C005_CO,nox:C005_NOX,hcn:null,shade:C005_SHADE,xt:C005_XT,altt:ALT_T,o3t:C005_O3T,cot:C005_COT,noxt:C005_NOXT,noxl:C005_NOXL,hcnt:null,xr:[10.77,15.14],altr:[-350,7270],o3r:[-6,100],cor:[-1180,18900],noxr:[-27000,500000],hcnr:null},
 {id:'C006',row:0,cx:[580,787],lx:548,rx:806,alt:C006_ALT,o3:C006_O3,co:C006_CO,nox:C006_NOX,hcn:null,shade:C006_SHADE,xt:C006_XT,altt:ALT_T,o3t:C006_O3T,cot:C006_COT,noxt:C006_NOXT,noxl:null,hcnt:null,xr:[16.06,20.73],altr:[-280,7100],o3r:[17,174],cor:[54,557],noxr:[-170,3150],hcnr:null},
 {id:'C007',row:1,cx:[42,241],lx:8,rx:263,alt:C007_ALT,o3:C007_O3,co:C007_CO,nox:C007_NOX,hcn:null,shade:C007_SHADE,xt:C007_XT,altt:ALT_T,o3t:C007_O3T,cot:C007_COT,noxt:C007_NOXT,noxl:null,hcnt:null,xr:[12.74,17.19],altr:[-330,7100],o3r:[13,110],cor:[46,349],noxr:[-310,3160],hcnr:null},
 {id:'C133',row:1,cx:[318,505],lx:278,rx:534,alt:C133_ALT,o3:C133_O3,co:C133_CO,nox:C133_NOX,hcn:C133_HCN,shade:C133_SHADE,xt:C133_XT,altt:ALT_T16,o3t:C133_O3T,cot:C133_COT,noxt:C133_NOXT,noxl:null,hcnt:C133_HCNT,xr:[11.65,15.62],altr:[730,6650],o3r:[-5.5,105],cor:[-277,5255],noxr:[-800,15080],hcnr:[-68,1272]},
 {id:'C134',row:1,cx:[580,777],lx:547,rx:806,alt:C134_ALT,o3:C134_O3,co:C134_CO,nox:C134_NOX,hcn:C134_HCN,shade:C134_SHADE,xt:C134_XT,altt:ALT_T16,o3t:C134_O3T,cot:C134_COT,noxt:C134_NOXT,noxl:null,hcnt:C134_HCNT,xr:[7.655,12.01],altr:[580,6370],o3r:[-8,160.6],cor:[-400,8050],noxr:[-600,11270],hcnr:[-52,974]},
 {id:'C218',row:2,cx:[39,240],lx:7,rx:263,alt:C218_ALT,o3:C218_O3,co:C218_CO,nox:C218_NOX,hcn:C218_HCN,shade:C218_SHADE,xt:C218_XT,altt:ALT_T,o3t:C218_O3T,cot:C218_COT,noxt:NOX_T400,noxl:null,hcnt:C218_HCNT,xr:[13.92,18.625],altr:[-330,6850],o3r:[11,125],cor:[42,402],noxr:[-28,430],hcnr:[-8.5,129]},
 {id:'C219',row:2,cx:[308,513],lx:271,rx:535,alt:C219_ALT,o3:C219_O3,co:C219_CO,nox:C219_NOX,hcn:C219_HCN,shade:C219_SHADE,xt:C219_XT,altt:C219_ALTT,o3t:C219_O3T,cot:C219_COT,noxt:NOX_T500,noxl:null,hcnt:HCN_T150,xr:[10.79,15.18],altr:[-200,4120],o3r:[17.4,84],cor:[56,269],noxr:[-36,546],hcnr:[-10.6,161.5]},
 {id:'C221',row:2,cx:[580,787],lx:544,rx:807,alt:C221_ALT,o3:C221_O3,co:C221_CO,nox:C221_NOX,hcn:C221_HCN,shade:C221_SHADE,xt:C221_XT,altt:ALT_T,o3t:C221_O3T,cot:C221_COT,noxt:NOX_T500,noxl:null,hcnt:HCN_T150,xr:[12.54,17.31],altr:[-320,6640],o3r:[17.4,84.4],cor:[56,269],noxr:[-36,546],hcnr:[-10.6,161.5]},
 {id:'C223',row:3,cx:[40,240],lx:8,rx:263,alt:C223_ALT,o3:C223_O3,co:C223_CO,nox:C223_NOX,hcn:C223_HCN,shade:C223_SHADE,xt:C223_XT,altt:ALT_T,o3t:C223_O3T,cot:C223_COT,noxt:NOX_T400,noxl:null,hcnt:HCN_T100,xr:[10.17,13.86],altr:[-230,7730],o3r:[18.8,78.7],cor:[57.7,247.7],noxr:[-24,443],hcnr:[-8,148]},
 {id:'C224',row:3,cx:[308,513],lx:271,rx:533,alt:C224_ALT,o3:C224_O3,co:C224_CO,nox:C224_NOX,hcn:C224_HCN,shade:C224_SHADE,xt:C224_XT,altt:C224_ALTT,o3t:C224_O3T,cot:C224_COT,noxt:NOX_T400,noxl:null,hcnt:HCN_T100,xr:[14.79,19.4],altr:[-250,8430],o3r:[16.6,103.4],cor:[54,327.8],noxr:[-25,474],hcnr:[-7.7,142]},
 {id:'C225',row:3,cx:[583,786],lx:548,rx:807,alt:C225_ALT,o3:C225_O3,co:C225_CO,nox:C225_NOX,hcn:C225_HCN,shade:C225_SHADE,xt:C225_XT,altt:ALT_T,o3t:C225_O3T,cot:C225_COT,noxt:NOX_T400,noxl:null,hcnt:HCN_T100,xr:[13.74,18.47],altr:[-200,6800],o3r:[15.2,120.8],cor:[52,378],noxr:[-24,438],hcnr:[-7.5,137.6]}
];
const COL={alt:'#303030',co:'#c3102a',o3:'#62eef0',nox:'#1f7a1a',hcn:'#e3a21a',shade:'#dcdede',line:'#3c3c3c'};

// ===================== BUILD =====================
const xn=k=>'x'+(k===1?'':k), yn=k=>'y'+(k===1?'':k);
const xl=k=>'xaxis'+(k===1?'':k), yl=k=>'yaxis'+(k===1?'':k);
const hhmm=t=>String(Math.floor(t)).padStart(2,'0')+':00';
const AX={showgrid:false,zeroline:false,showline:true,linecolor:COL.line,linewidth:0.8,ticks:'outside',ticklen:2.5,tickwidth:0.7,tickcolor:COL.line,tickfont:{size:7.5,color:'#4d4d4d',family:FONT},tickmode:'array',automargin:false,fixedrange:true};
const traces=[];
const layout={width:W,height:H,margin:{l:0,r:0,t:0,b:0},paper_bgcolor:'#fff',plot_bgcolor:'#fff',font:{family:FONT,color:'#000'},
  showlegend:true,legend:{orientation:'h',x:205/W,xanchor:'left',y:1-960/H,yanchor:'middle',font:{size:12,color:'#000',family:FONT},bgcolor:'rgba(0,0,0,0)',traceorder:'normal',itemwidth:30,entrywidth:54,entrywidthmode:'pixels'},
  shapes:[],annotations:[]};
const ann=(text,x,y,size,angle,extra)=>layout.annotations.push(Object.assign({text,x:x/W,y:1-y/H,xref:'paper',yref:'paper',showarrow:false,xanchor:'center',yanchor:'middle',textangle:angle||0,font:{size,color:'#000',family:FONT}},extra||{}));
const line=(data,xk,yk,color,w,extra)=>traces.push(Object.assign({type:'scatter',mode:'lines',x:data.map(d=>d[0]),y:data.map(d=>d[1]),xaxis:xn(xk),yaxis:yn(yk),line:{color,width:w},showlegend:false,hoverinfo:'skip',connectgaps:false},extra||{}));

PANELS.forEach((p,i)=>{
  const R=ROWS[p.row];
  const dx=[p.cx[0]/W,p.cx[1]/W];
  const dy=b=>[1-b[1]/H,1-b[0]/H];
  const X=[3*i+1,3*i+2,3*i+3], Y=[5*i+1,5*i+2,5*i+3,5*i+4,5*i+5];
  const tt=p.xt.map(hhmm);
  const bands=[R.alt,R.o3,R.nox], ys=[Y[0],Y[1],Y[3]];
  bands.forEach((b,j)=>{
    layout[xl(X[j])]=Object.assign({},AX,{domain:dx,range:p.xr,tickvals:p.xt,ticktext:tt,showticklabels:j===2,anchor:yn(ys[j]),mirror:true});
    p.shade.forEach(s=>layout.shapes.push({type:'rect',xref:xn(X[j]),yref:yn(ys[j])+' domain',x0:s[0],x1:s[1],y0:0,y1:1,fillcolor:COL.shade,line:{width:0},layer:'below'}));
  });
  layout[yl(Y[0])]=Object.assign({},AX,{domain:dy(R.alt),range:p.altr,tickvals:p.altt,ticktext:p.altt.map(String),anchor:xn(X[0]),mirror:true});
  layout[yl(Y[1])]=Object.assign({},AX,{domain:dy(R.o3),range:p.o3r,tickvals:p.o3t,ticktext:p.o3t.map(String),anchor:xn(X[1]),mirror:true});
  layout[yl(Y[2])]=Object.assign({},AX,{range:p.cor,tickvals:p.cot,ticktext:p.cot.map(String),overlaying:yn(Y[1]),side:'right',anchor:xn(X[1]),showline:false});
  layout[yl(Y[3])]=Object.assign({},AX,{domain:dy(R.nox),range:p.noxr,tickvals:p.noxt,ticktext:p.noxl||p.noxt.map(String),anchor:xn(X[2]),mirror:true});
  if(p.hcn) layout[yl(Y[4])]=Object.assign({},AX,{range:p.hcnr,tickvals:p.hcnt,ticktext:p.hcnt.map(String),overlaying:yn(Y[3]),side:'right',anchor:xn(X[2]),showline:false});

  line(p.alt,X[0],Y[0],COL.alt,1);
  line(p.o3,X[1],Y[1],COL.o3,1.2);
  line(p.co,X[1],Y[2],COL.co,1.3,{opacity:0.92});
  line(p.nox,X[2],Y[3],COL.nox,1.2,{opacity:0.92});
  if(p.hcn) line(p.hcn,X[2],Y[4],COL.hcn,1.6,{mode:'lines+markers',marker:{size:2.6,color:COL.hcn},opacity:0.85});

  const cxm=(p.cx[0]+p.cx[1])/2;
  ann(p.id,cxm,R.title,9);
  ann('Date',cxm,R.date,8.5);
  const mid=b=>(b[0]+b[1])/2;
  ann('Altitude /m',p.lx,mid(R.alt),8,-90);
  ann('O<sub>3</sub> /ppbv',p.lx,mid(R.o3),8,-90);
  ann('NO<sub>x</sub> /pptv',p.lx,mid(R.nox),8,-90);
  ann('CO /ppbv',p.rx,mid(R.o3),8,90);
  if(p.hcn) ann('HCN /ppt',p.rx,mid(R.nox),8,90);
});

// legend entries (no data, legend only)
const leg=(name,color,rank,marker)=>traces.push({type:'scatter',mode:marker?'markers':'lines',x:[null],y:[null],xaxis:'x3',yaxis:'y4',name,legendrank:rank,showlegend:true,line:{color,width:2},marker:{color,size:7}});
leg('Altitude /m',COL.alt,1);
leg('CO /ppb',COL.co,2);
leg('O<sub>3</sub>/ppb',COL.o3,3);
leg('NO<sub>x</sub>/pptv',COL.nox,4);
leg('HCN /ppt',COL.hcn,5,true);

Plotly.newPlot('chart',traces,layout,{displayModeBar:false,staticPlot:true});
</script></body></html>
